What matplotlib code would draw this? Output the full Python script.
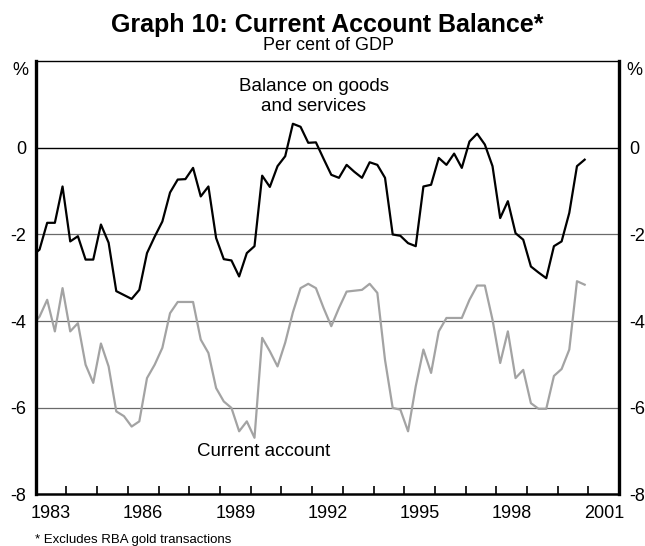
import numpy as np
import pandas as pd
import matplotlib
matplotlib.use("Agg")
import matplotlib.pyplot as plt

plt.rcParams['font.family'] = ['Liberation Sans', 'DejaVu Sans']

# quarterly data, 1982Q4 - 2000Q4 (per cent of GDP)
quarters = pd.period_range('1982Q4', '2000Q4', freq='Q')

goods_services = [
    -2.50,
    -2.35, -1.73, -1.73, -0.89,
    -2.16, -2.04, -2.58, -2.58,
    -1.77, -2.19, -3.31, -3.40,
    -3.49, -3.28, -2.43, -2.05,
    -1.70, -1.03, -0.73, -0.72,
    -0.46, -1.12, -0.89, -2.08,
    -2.57, -2.60, -2.97, -2.43,
    -2.27, -0.64, -0.90, -0.42,
    -0.19, 0.56, 0.49, 0.12,
    0.13, -0.25, -0.62, -0.69,
    -0.39, -0.55, -0.69, -0.33,
    -0.39, -0.69, -2.00, -2.03,
    -2.20, -2.27, -0.89, -0.85,
    -0.23, -0.39, -0.13, -0.46,
    0.15, 0.33, 0.08, -0.42,
    -1.62, -1.23, -1.97, -2.12,
    -2.74, -2.88, -3.01, -2.27,
    -2.16, -1.50, -0.42, -0.27,
]

current_account = [
    -4.10,
    -3.90, -3.51, -4.24, -3.24,
    -4.24, -4.05, -5.01, -5.43,
    -4.52, -5.05, -6.09, -6.20,
    -6.44, -6.32, -5.32, -5.01,
    -4.62, -3.82, -3.56, -3.56,
    -3.56, -4.43, -4.74, -5.55,
    -5.86, -6.01, -6.55, -6.32,
    -6.70, -4.39, -4.70, -5.05,
    -4.50, -3.80, -3.24, -3.14,
    -3.24, -3.70, -4.12, -3.70,
    -3.32, -3.30, -3.28, -3.14,
    -3.35, -4.90, -6.01, -6.05,
    -6.55, -5.51, -4.66, -5.20,
    -4.24, -3.93, -3.93, -3.93,
    -3.51, -3.18, -3.18, -3.97,
    -4.97, -4.24, -5.32, -5.13,
    -5.90, -6.03, -6.03, -5.27,
    -5.11, -4.66, -3.08, -3.16,
]

year_labels = [1983, 1986, 1989, 1992, 1995, 1998, 2001]
y_ticks = [-8, -6, -4, -2, 0]

# plot each quarter at its mid point
t = quarters.year + (quarters.quarter - 0.5) / 4

fig = plt.figure(figsize=(6.45, 5.46), dpi=100)
ax = fig.add_axes([0.0553, 0.0952, 0.9047, 0.7922])

for v in [-6, -4, -2]:
    ax.axhline(v, color='#6a6a6a', lw=0.9, zorder=1)
ax.axhline(0, color='black', lw=1.0, zorder=1)

ax.plot(t, current_account, color='#a3a3a3', lw=1.6, zorder=2)
ax.plot(t, goods_services, color='black', lw=1.6, zorder=3)

ax.set_xlim(1983, 2002)
ax.set_ylim(-8, 2)

# year ticks at year boundaries, labels centred in the year
ax.set_xticks(range(1984, 2002))
ax.set_xticklabels([])
ax.set_xticks([y + 0.5 for y in year_labels], minor=True)
ax.set_xticklabels([str(y) for y in year_labels], minor=True)
ax.tick_params(axis='x', which='major', direction='in', length=6, width=1.2)
ax.tick_params(axis='x', which='minor', length=0, labelsize=13, pad=8)

ax.set_yticks(y_ticks)
ax.set_yticklabels([str(v) for v in y_ticks])
ax.tick_params(axis='y', length=0, labelsize=13, pad=7,
               labelleft=True, labelright=True)

ax.text(-0.012, 0.979, '%', transform=ax.transAxes, ha='right', va='center',
        fontsize=13)
ax.text(1.012, 0.979, '%', transform=ax.transAxes, ha='left', va='center',
        fontsize=13)

for side in ['left', 'right']:
    ax.spines[side].set_linewidth(2.4)
ax.spines['bottom'].set_linewidth(1.8)
ax.spines['top'].set_linewidth(1.0)

ax.text(1992.05, 1.19, 'Balance on goods\nand services', ha='center',
        va='center', fontsize=13.5, linespacing=1.2)
ax.text(1990.41, -7.01, 'Current account', ha='center', va='center',
        fontsize=13.5)

fig.text(0.507, 0.941, 'Graph 10: Current Account Balance*', ha='center',
         va='baseline', fontsize=18, fontweight='bold')
fig.text(0.51, 0.908, 'Per cent of GDP', ha='center', va='baseline',
         fontsize=13)
fig.text(0.054, 0.011, '* Excludes RBA gold transactions', ha='left',
         va='center', fontsize=9.5)

fig.savefig('out.png', dpi=100)
